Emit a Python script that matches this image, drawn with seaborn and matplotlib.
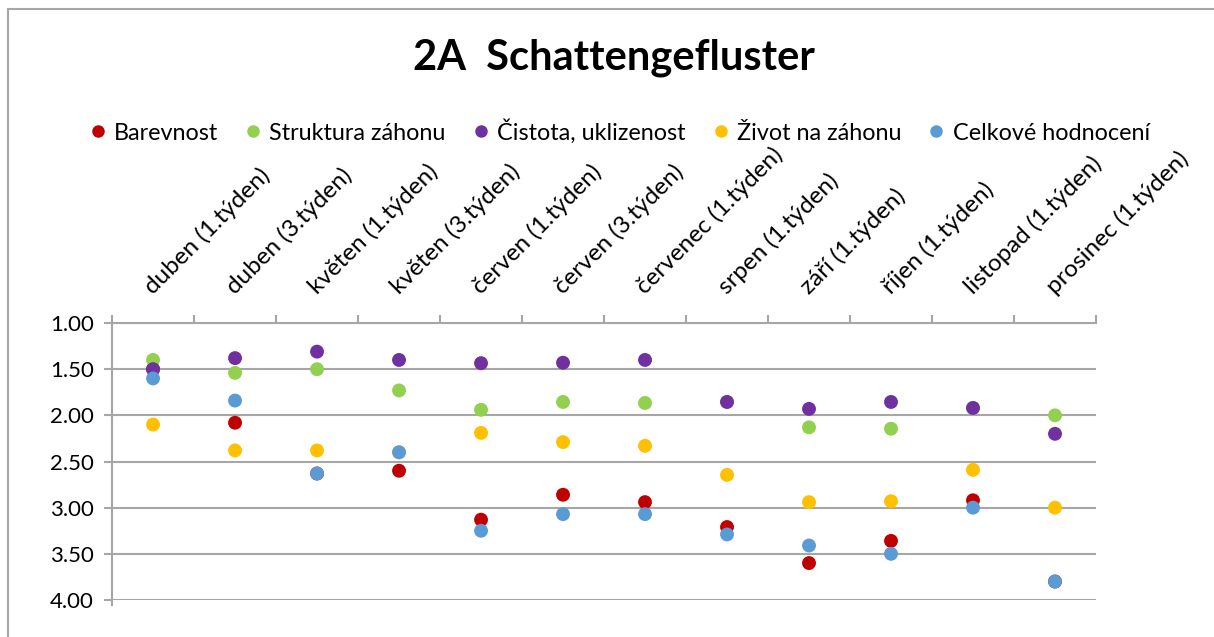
import numpy as np
import pandas as pd
import matplotlib
matplotlib.use("Agg")
import matplotlib.pyplot as plt
from matplotlib.lines import Line2D
from matplotlib.ticker import FixedLocator, FormatStrFormatter
import seaborn as sns

categories = ["duben (1.týden)", "duben (3.týden)", "květen (1.týden)", "květen (3.týden)",
              "červen (1.týden)", "červen (3.týden)", "červenec (1.týden)", "srpen (1.týden)",
              "září (1.týden)", "říjen (1.týden)", "listopad (1.týden)", "prosinec (1.týden)"]
series_names = ["Barevnost", "Struktura záhonu", "Čistota, uklizenost", "Život na záhonu", "Celkové hodnocení"]
barevnost = [1.50, 2.08, 2.63, 2.60, 3.13, 2.86, 2.94, 3.21, 3.60, 3.36, 2.92, 3.80]
struktura = [1.40, 1.54, 1.50, 1.73, 1.94, 1.855, 1.866, 1.855, 2.13, 2.145, 1.92, 2.00]
cistota = [1.50, 1.38, 1.31, 1.40, 1.435, 1.43, 1.40, 1.855, 1.93, 1.855, 1.92, 2.20]
zivot = [2.10, 2.38, 2.38, 2.40, 2.19, 2.29, 2.33, 2.645, 2.94, 2.93, 2.59, 3.00]
celkove = [1.60, 1.84, 2.63, 2.40, 3.25, 3.07, 3.07, 3.29, 3.41, 3.50, 3.00, 3.80]
colors = ["#C00000", "#92D050", "#7030A0", "#FFC000", "#5B9BD5"]
y_ticks = [1.0, 1.5, 2.0, 2.5, 3.0, 3.5, 4.0]
title = "2A  Schattengefluster"

all_values = [barevnost, struktura, cistota, zivot, celkove]
df = pd.concat([pd.DataFrame({"kategorie": categories, "hodnota": v, "serie": n})
                for n, v in zip(series_names, all_values)], ignore_index=True)

sns.set_style("white")
font = ["Lato", "DejaVu Sans"]
plt.rcParams["font.family"] = font
plt.rcParams["text.color"] = "black"
plt.rcParams["xtick.labelcolor"] = "black"
plt.rcParams["ytick.labelcolor"] = "black"
grid_c = "#A6A6A6"

fig = plt.figure(figsize=(12.14, 6.37), dpi=100)
ax = fig.add_axes([0.0923, 0.0581, 0.8105, 0.4348])

sns.stripplot(data=df, x="kategorie", y="hodnota", hue="serie", order=categories,
              hue_order=series_names, palette=colors, jitter=False, dodge=False,
              size=10, linewidth=0, ax=ax, legend=False, zorder=3)

ax.set_ylim(4.0, 1.0)
ax.set_xlim(-0.5, len(categories) - 0.5)
ax.yaxis.set_major_locator(FixedLocator(y_ticks))
ax.yaxis.set_major_formatter(FormatStrFormatter("%.2f"))
ax.grid(axis="y", color=grid_c, linewidth=1.5, zorder=0)
ax.grid(axis="x", visible=False)
ax.set_xlabel("")
ax.set_ylabel("")

for s in ["right", "bottom"]:
    ax.spines[s].set_visible(False)
ax.spines["left"].set_color(grid_c)
ax.spines["left"].set_linewidth(1.5)
ax.spines["left"].set_bounds(4.05, 1.0)
ax.spines["top"].set_color(grid_c)
ax.spines["top"].set_linewidth(1.5)

ax.tick_params(axis="y", which="major", length=6, width=1.5, color=grid_c,
               labelsize=16, pad=7, left=True)
ax.xaxis.tick_top()
ax.set_xticks(range(len(categories)))
ax.set_xticklabels(categories, rotation=45, ha="left", va="baseline", rotation_mode="anchor",
                   fontsize=17.5)
ax.tick_params(axis="x", which="major", length=0, pad=20, top=True, bottom=False)
ax.set_xticks(np.arange(-0.5, len(categories) + 0.5, 1), minor=True)
ax.tick_params(axis="x", which="minor", length=6, width=1.5, color=grid_c, top=True, bottom=False)

fig.text(0.506, 0.91, title, ha="center", va="center", fontsize=30, fontweight="bold")

handles = [Line2D([0], [0], marker="o", linestyle="", markersize=9, markerfacecolor=c,
                  markeredgewidth=0, label=n) for n, c in zip(series_names, colors)]
fig.legend(handles=handles, loc="center", bbox_to_anchor=(0.508, 0.794), ncol=5, frameon=False,
           fontsize=16.8, handletextpad=0.1, columnspacing=0.9, handlelength=1.2)

fig.add_artist(Line2D([8 / 1214, 8 / 1214], [0, 1 - 9 / 637], transform=fig.transFigure,
                      color=grid_c, linewidth=1.5))
fig.add_artist(Line2D([8 / 1214, 1], [1 - 9 / 637, 1 - 9 / 637], transform=fig.transFigure,
                      color=grid_c, linewidth=1.5))
fig.savefig("out.png", dpi=100)
